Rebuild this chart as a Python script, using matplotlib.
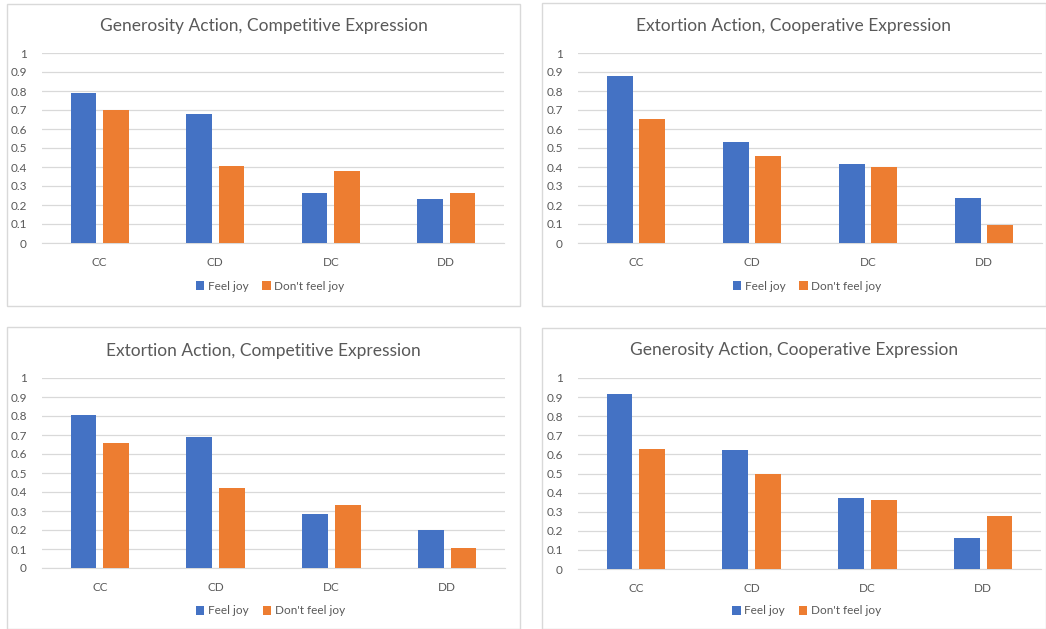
import matplotlib.pyplot as plt
from matplotlib.patches import Rectangle
import numpy as np

categories = ['CC', 'CD', 'DC', 'DD']
series_names = ['Feel joy', "Don't feel joy"]

titles = [
    'Generosity Action, Competitive Expression',
    'Extortion Action, Cooperative Expression',
    'Extortion Action, Competitive Expression',
    'Generosity Action, Cooperative Expression',
]

gen_comp_joy = [0.79, 0.68, 0.265, 0.233]
gen_comp_nojoy = [0.70, 0.405, 0.38, 0.265]

ext_coop_joy = [0.88, 0.532, 0.417, 0.237]
ext_coop_nojoy = [0.653, 0.46, 0.40, 0.097]

ext_comp_joy = [0.804, 0.688, 0.282, 0.198]
ext_comp_nojoy = [0.656, 0.421, 0.332, 0.105]

gen_coop_joy = [0.916, 0.623, 0.372, 0.162]
gen_coop_nojoy = [0.627, 0.499, 0.363, 0.277]

panel_data = [
    (gen_comp_joy, gen_comp_nojoy),
    (ext_coop_joy, ext_coop_nojoy),
    (ext_comp_joy, ext_comp_nojoy),
    (gen_coop_joy, gen_coop_nojoy),
]

blue = '#4472C4'
orange = '#ED7D31'
grid_color = '#D9D9D9'
text_color = '#595959'
font = ['Lato', 'DejaVu Sans']

W, H = 1046, 629
fig = plt.figure(figsize=(W / 100, H / 100), dpi=100)
fig.patch.set_facecolor('white')

# pixel layouts: box (x0, y0, x1, y1), plot area (x0, y0, x1, y1), title y, legend y
layouts = [
    ((7, 4, 520, 306), (42, 53, 504, 243), 26, 286),
    ((542, 3, 1046, 306), (578, 53, 1042, 243), 26, 286),
    ((7, 327, 520, 629), (42, 378, 505, 568), 351, 611),
    ((542, 328, 1046, 629), (578, 378, 1041, 569), 350, 611),
]


def fx(px):
    return px / W


def fy(py):
    return 1 - py / H


for (box, area, ty, ly), title, (joy, nojoy) in zip(layouts, titles, panel_data):
    fig.patches.append(Rectangle((fx(box[0]), fy(box[3])), fx(box[2] - box[0]), (box[3] - box[1]) / H,
                                 transform=fig.transFigure, fill=False, edgecolor=grid_color, lw=1))

    ax = fig.add_axes([fx(area[0]), fy(area[3]), fx(area[2] - area[0]), (area[3] - area[1]) / H])
    x = np.arange(len(categories))
    w = 0.222
    off = 0.141
    b1 = ax.bar(x - off, joy, w, color=blue, zorder=3)
    b2 = ax.bar(x + off, nojoy, w, color=orange, zorder=3)

    ax.set_xlim(-0.5, 3.5)
    ax.set_ylim(0, 1)
    ax.set_yticks(np.arange(0, 1.01, 0.1))
    ax.set_yticklabels(['0', '0.1', '0.2', '0.3', '0.4', '0.5', '0.6', '0.7', '0.8', '0.9', '1'])
    ax.set_xticks(x)
    ax.set_xticklabels(categories)
    ax.grid(axis='y', color=grid_color, lw=0.9, zorder=0)
    ax.tick_params(length=0, labelsize=8.5, labelcolor=text_color)
    ax.tick_params(axis='x', pad=10)
    ax.tick_params(axis='y', pad=11)
    for lab in ax.get_xticklabels() + ax.get_yticklabels():
        lab.set_family(font)
    for s in ['top', 'right', 'left']:
        ax.spines[s].set_visible(False)
    ax.spines['bottom'].set_color(grid_color)

    fig.text(fx((box[0] + box[2]) / 2), fy(ty), title, ha='center', va='center',
             fontsize=12.5, color=text_color, family=font)

    fig.legend([b1, b2], series_names, loc='center', bbox_to_anchor=(fx((area[0] + area[2]) / 2 - 3), fy(ly)),
               ncol=2, frameon=False, handlelength=0.7, handleheight=0.7, handletextpad=0.3,
               columnspacing=1.2, prop={'family': font, 'size': 8.5}, labelcolor=text_color)

fig.savefig('out.png', dpi=100, facecolor='white')
